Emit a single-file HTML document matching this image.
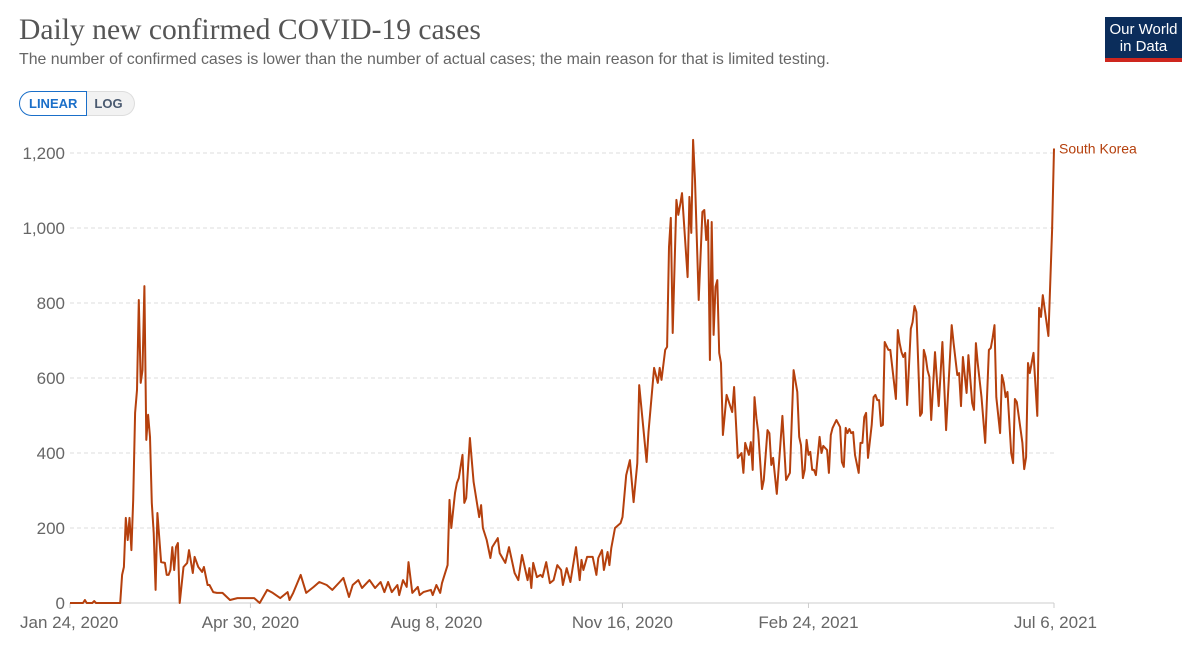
<!DOCTYPE html>
<html><head><meta charset="utf-8"><style>
body{margin:0;background:#fff;width:1200px;height:649px;overflow:hidden;font-family:"Liberation Sans",sans-serif}
#title{position:absolute;left:19px;top:14px;font-family:"Liberation Serif",serif;font-size:29.6px;color:#555;margin:0;font-weight:normal}
#sub{position:absolute;left:19px;top:51px;font-size:15.9px;color:#666}
.btns{position:absolute;left:19px;top:91px;height:25px;display:flex;font-size:13px;font-weight:bold}
.b1{border:1.5px solid #1a6fc9;color:#1a6fc9;border-radius:13px 0 0 13px;padding:0 9px;line-height:23px;background:#fff}
.b2{border:1px solid #ddd;border-left:none;color:#4a5a70;border-radius:0 13px 13px 0;padding:0 11px 0 7px;line-height:24px;background:#f2f2f2}
#logo{position:absolute;left:1105px;top:17px;width:77px;height:45px;background:#0b2d5b;color:#fff;font-size:15px;line-height:17px;text-align:center;border-bottom:4px solid #ce261e;box-sizing:border-box;padding-top:4px}
</style></head><body>
<h1 id="title">Daily new confirmed COVID-19 cases</h1>
<div id="sub">The number of confirmed cases is lower than the number of actual cases; the main reason for that is limited testing.</div>
<div class="btns"><div class="b1">LINEAR</div><div class="b2">LOG</div></div>
<div id="logo">Our World<br>in Data</div>
<svg id="chart" width="1200" height="649" style="position:absolute;left:0;top:0"></svg>
<script>
const yTicks=[0,200,400,600,800,1000,1200];
const yTickLabels=["0","200","400","600","800","1,000","1,200"];
const xTickDays=[0,97,197,297,397,529];
const xTickLabels=["Jan 24, 2020","Apr 30, 2020","Aug 8, 2020","Nov 16, 2020","Feb 24, 2021","Jul 6, 2021"];
const seriesName="South Korea";
const days=[0,7,8,9,12,13,14,27,28,29,30,31,32,33,34,35,36,37,38,39,40,41,42,43,44,45,46,47,49,51,52,53,54,55,56,57,58,59,61,63,64,66,67,69,71,72,74,75,77,79,82,86,90,95,99,102,106,109,113,117,118,120,124,127,131,134,138,141,145,147,150,152,155,157,161,164,167,169,171,173,176,177,179,181,182,184,187,188,190,194,195,197,199,200,203,204,205,207,208,209,211,212,213,215,217,220,221,222,224,226,227,230,231,234,236,239,241,243,246,247,248,249,251,253,254,256,258,260,262,264,265,267,269,272,274,275,276,278,281,283,284,286,287,289,290,291,293,296,297,299,301,303,305,306,310,311,314,316,317,318,320,321,322,323,324,326,327,328,329,332,333,334,335,336,338,340,341,342,343,344,345,346,347,348,349,350,351,353,356,357,359,361,362,363,365,366,367,368,369,370,372,373,375,376,377,378,380,383,385,387,389,391,392,393,394,395,396,397,398,399,400,401,403,404,405,407,408,409,410,412,414,415,416,417,418,419,420,421,422,424,425,426,427,428,429,431,432,433,434,435,436,437,438,440,441,444,445,446,447,448,449,450,452,453,454,455,457,458,459,460,461,462,463,465,467,469,471,474,475,477,478,479,480,481,482,483,485,486,487,488,490,492,494,495,496,497,498,500,501,502,503,504,506,507,508,509,512,513,514,515,516,518,520,521,522,523,526,528,529];
const cases=[0,0,8,0,0,5,0,0,75,96,227,168,227,141,275,507,568,808,587,621,845,435,502,443,267,187,35,240,109,107,75,75,88,149,88,149,160,0,96,107,141,80,123,96,83,96,48,48,29,27,27,8,13,13,13,0,35,27,13,29,8,27,75,27,43,56,48,35,56,67,16,48,61,40,61,40,56,29,56,29,48,21,61,43,109,27,43,21,29,35,21,48,27,53,101,275,200,293,320,333,395,267,280,440,323,229,261,200,168,120,149,173,133,107,149,80,61,128,61,93,40,107,69,75,69,109,53,61,101,88,48,93,56,149,61,115,88,123,123,75,120,141,88,136,101,147,200,213,229,341,381,269,373,581,376,456,627,587,627,595,675,683,949,1027,720,1075,1035,1061,1093,869,1083,987,1235,1128,808,1043,1048,968,1021,648,1016,715,843,861,667,640,448,555,509,576,387,400,347,427,395,429,355,549,493,456,304,328,461,453,368,387,291,499,328,347,621,563,443,421,333,355,435,395,403,355,355,341,443,400,419,408,347,448,467,488,469,376,363,467,453,464,453,456,395,347,427,427,496,507,387,475,549,555,541,541,472,475,696,675,675,544,728,693,669,656,667,528,731,749,792,776,499,507,675,656,621,603,488,669,525,696,461,741,693,608,613,525,656,608,560,661,533,515,693,640,549,427,675,680,707,741,549,453,608,587,549,563,400,373,544,536,427,357,389,640,613,667,499,787,763,821,712,995,1212];
const NS="http://www.w3.org/2000/svg";
const svg=document.getElementById('chart');
const X0=70,X1=1054,Y0=603,Y1=153;
const xs=d=>X0+(d-xTickDays[0])*(X1-X0)/(xTickDays[xTickDays.length-1]-xTickDays[0]);
const ys=v=>Y0-(v-yTicks[0])*(Y0-Y1)/(yTicks[yTicks.length-1]-yTicks[0]);
function mk(t,a){const e=document.createElementNS(NS,t);for(const k in a)e.setAttribute(k,a[k]);svg.appendChild(e);return e;}
yTicks.forEach((v,i)=>{
  if(i>0){const g=mk('line',{x1:X0,x2:X1,y1:ys(v),y2:ys(v),stroke:'#ddd','stroke-dasharray':'4,3'});
  
  }
  const t=mk('text',{x:65,y:ys(v)+6,'text-anchor':'end','font-size':17,fill:'#666','font-family':'Liberation Sans, sans-serif'});
  t.textContent=yTickLabels[i];
  
  
});
const ax=mk('line',{x1:X0,x2:X1,y1:Y0,y2:Y0,stroke:'#ccc'});


xTickDays.forEach((d,i)=>{
  const tk=mk('line',{x1:xs(d),x2:xs(d),y1:Y0,y2:Y0+5,stroke:'#ccc'});
  
  
  const anchor=i==0?'start':(i==xTickDays.length-1?'end':'middle');
  const xx=i==0?xs(d)-50:(i==xTickDays.length-1?xs(d)+43:xs(d));
  const t=mk('text',{x:xx,y:628,'text-anchor':anchor,'font-size':17,fill:'#666','font-family':'Liberation Sans, sans-serif'});
  t.textContent=xTickLabels[i];
  
  
});
const pts=days.map((d,i)=>xs(d).toFixed(1)+','+ys(cases[i]).toFixed(1)).join(' ');
const pl=mk('polyline',{points:pts,fill:'none',stroke:'#b5400d','stroke-width':2,'stroke-linejoin':'round'});


const lb=mk('text',{x:xs(days[days.length-1])+5,y:ys(cases[cases.length-1])+5,'font-size':14,fill:'#b5400d','font-family':'Liberation Sans, sans-serif'});
lb.textContent=seriesName;


</script>
</body></html>
